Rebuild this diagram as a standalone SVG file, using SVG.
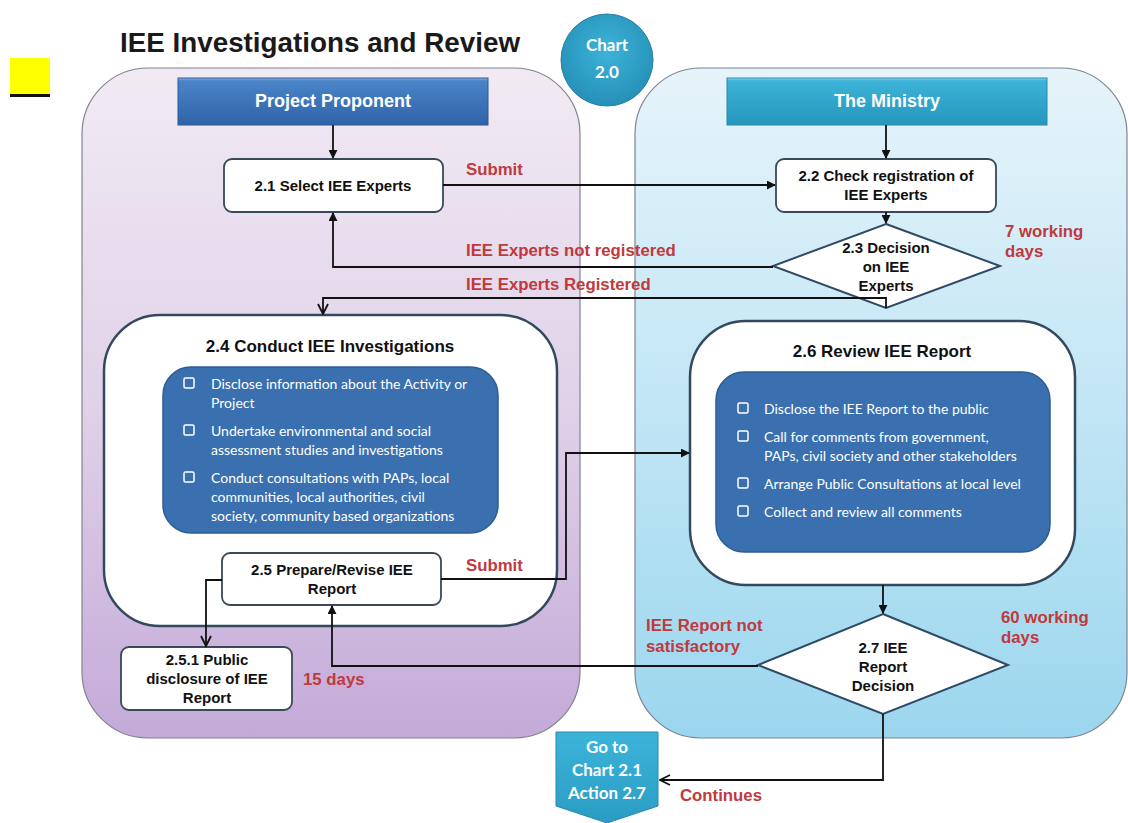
<svg xmlns="http://www.w3.org/2000/svg" width="1128" height="823" viewBox="0 0 1128 823">
<defs>
<linearGradient id="gPurple" x1="0" y1="0" x2="0" y2="1"><stop offset="0" stop-color="#f1eaf3"/><stop offset="0.5" stop-color="#e0d2e9"/><stop offset="1" stop-color="#c4aad8"/></linearGradient>
<linearGradient id="gBlue" x1="0" y1="0" x2="0" y2="1"><stop offset="0" stop-color="#e6f4fa"/><stop offset="0.5" stop-color="#c2e6f5"/><stop offset="1" stop-color="#9bd6ee"/></linearGradient>
<linearGradient id="gPP" x1="0" y1="0" x2="0" y2="1"><stop offset="0" stop-color="#8fb6e6"/><stop offset="0.06" stop-color="#4a84c8"/><stop offset="1" stop-color="#2f63a7"/></linearGradient>
<linearGradient id="gMin" x1="0" y1="0" x2="0" y2="1"><stop offset="0" stop-color="#8fd6ee"/><stop offset="0.06" stop-color="#3cb3d8"/><stop offset="1" stop-color="#2696bd"/></linearGradient>
<radialGradient id="gCircle" cx="0.5" cy="0.4" r="0.6"><stop offset="0" stop-color="#3db3d8"/><stop offset="1" stop-color="#2590b8"/></radialGradient>
<linearGradient id="gGo" x1="0" y1="0" x2="0" y2="1"><stop offset="0" stop-color="#3cb4da"/><stop offset="1" stop-color="#2a9cc4"/></linearGradient>
<marker id="arr" viewBox="0 0 10 10" refX="9" refY="5" markerWidth="9" markerHeight="9" markerUnits="userSpaceOnUse" orient="auto"><path d="M0,0 L10,5 L0,10 z" fill="#111"/></marker>
<marker id="open" viewBox="0 0 12 12" refX="11" refY="6" markerWidth="12" markerHeight="12" markerUnits="userSpaceOnUse" orient="auto"><path d="M1,1 L11,6 L1,11" fill="none" stroke="#111" stroke-width="1.8"/></marker>
</defs>
<style>
.lane{stroke:#808390;stroke-width:1.2}
.box{fill:#fff;stroke:#3a4858;stroke-width:1.8}
.cont{fill:#fff;stroke:#34495e;stroke-width:2.5}
.inner{fill:#3a70b0;stroke:#2d5c94;stroke-width:1.5}
.nt{font-family:"Liberation Sans",Arial,sans-serif;font-weight:bold;font-size:15px;fill:#111;text-anchor:middle}
.ttl{font-family:"Liberation Sans",Arial,sans-serif;font-weight:bold;font-size:17px;fill:#111;text-anchor:middle}
.hd{font-family:"Liberation Sans",Arial,sans-serif;font-weight:bold;font-size:18px;fill:#fff;text-anchor:middle}
.red{font-family:"Liberation Sans",Arial,sans-serif;font-weight:bold;font-size:16.8px;fill:#c0393d}
.bl{font-family:Lato,"Open Sans",sans-serif;font-size:14px;fill:#fff}
.cb{fill:none;stroke:#fff;stroke-width:1.5}
.wt{font-family:Lato,"Open Sans",sans-serif;font-weight:bold;font-size:17px;fill:#fff;text-anchor:middle}
.con{fill:none;stroke:#111;stroke-width:1.8}
</style>
<rect width="1128" height="823" fill="#fff"/>

<g id="lanes">
<rect class="lane" x="82" y="68" width="498" height="670" rx="66" fill="url(#gPurple)"/>
<rect class="lane" x="635" y="68" width="492" height="670" rx="66" fill="url(#gBlue)"/>
</g>

<g id="marker-square">
<rect x="10" y="58" width="40" height="37" fill="#ffff00"/>
<rect x="10" y="94" width="40" height="3" fill="#111"/>
</g>

<g id="title">
<text x="120" y="52" font-family="'Liberation Sans',Arial,sans-serif" font-weight="bold" font-size="27.8" fill="#1a1a1a">IEE Investigations and Review</text>
</g>

<g id="chart">
<circle cx="607" cy="60" r="46" fill="url(#gCircle)" stroke="#2a7fa0" stroke-width="1"/>
<text class="wt" x="607" y="51">Chart</text>
<text class="wt" x="607" y="78">2.0</text>
</g>

<g id="header-pp">
<rect x="178" y="78" width="310" height="47" fill="url(#gPP)" stroke="#2a5a95" stroke-width="1"/>
<text class="hd" x="333" y="107">Project Proponent</text>
</g>

<g id="header-min">
<rect x="727" y="78" width="320" height="47" fill="url(#gMin)" stroke="#2a88ad" stroke-width="1"/>
<text class="hd" x="887" y="107">The Ministry</text>
</g>

<g id="n21">
<rect class="box" x="224" y="159" width="219" height="53" rx="8"/>
<text class="nt" x="333" y="191">2.1 Select IEE Experts</text>
</g>

<g id="n22">
<rect class="box" x="776" y="159" width="220" height="53" rx="8"/>
<text class="nt" x="886" y="181">2.2 Check registration of</text>
<text class="nt" x="886" y="200">IEE Experts</text>
</g>

<g id="n23">
<polygon points="886,224 1000,266 886,308 773,266" fill="#fff" stroke="#2f4a66" stroke-width="2"/>
<text class="nt" x="886" y="253">2.3 Decision</text>
<text class="nt" x="886" y="272">on IEE</text>
<text class="nt" x="886" y="291">Experts</text>
</g>

<g id="n24">
<rect class="cont" x="104" y="315" width="453" height="311" rx="56"/>
<text class="ttl" x="330" y="352">2.4 Conduct IEE Investigations</text>
<rect class="inner" x="163" y="367" width="335" height="166" rx="28"/>
<rect class="cb" x="184" y="378" width="10" height="10" rx="1.5"/>
<text class="bl" x="211" y="389">Disclose information about the Activity or</text>
<text class="bl" x="211" y="408">Project</text>
<rect class="cb" x="184" y="425" width="10" height="10" rx="1.5"/>
<text class="bl" x="211" y="436">Undertake environmental and social</text>
<text class="bl" x="211" y="455">assessment studies and investigations</text>
<rect class="cb" x="184" y="472" width="10" height="10" rx="1.5"/>
<text class="bl" x="211" y="483">Conduct consultations with PAPs, local</text>
<text class="bl" x="211" y="502">communities, local authorities, civil</text>
<text class="bl" x="211" y="521">society, community based organizations</text>
</g>

<g id="n25">
<rect class="box" x="222" y="553" width="219" height="52" rx="8"/>
<text class="nt" x="332" y="575">2.5 Prepare/Revise IEE</text>
<text class="nt" x="332" y="594">Report</text>
</g>

<g id="n251">
<rect class="box" x="121" y="647" width="171" height="63" rx="8"/>
<text class="nt" x="207" y="665">2.5.1 Public</text>
<text class="nt" x="207" y="684">disclosure of IEE</text>
<text class="nt" x="207" y="703">Report</text>
</g>

<g id="n26">
<rect class="cont" x="690" y="321" width="385" height="264" rx="56"/>
<text class="ttl" x="882" y="357">2.6 Review IEE Report</text>
<rect class="inner" x="716" y="372" width="334" height="180" rx="28"/>
<rect class="cb" x="738" y="403" width="10" height="10" rx="1.5"/>
<text class="bl" x="764" y="414">Disclose the IEE Report to the public</text>
<rect class="cb" x="738" y="431" width="10" height="10" rx="1.5"/>
<text class="bl" x="764" y="442">Call for comments from government,</text>
<text class="bl" x="764" y="461">PAPs, civil society and other stakeholders</text>
<rect class="cb" x="738" y="478" width="10" height="10" rx="1.5"/>
<text class="bl" x="764" y="489">Arrange Public Consultations at local level</text>
<rect class="cb" x="738" y="506" width="10" height="10" rx="1.5"/>
<text class="bl" x="764" y="517">Collect and review all comments</text>
</g>

<g id="n27">
<polygon points="883,614 1008,665 883,714 758,665" fill="#fff" stroke="#2f4a66" stroke-width="2"/>
<text class="nt" x="883" y="653">2.7 IEE</text>
<text class="nt" x="883" y="672">Report</text>
<text class="nt" x="883" y="691">Decision</text>
</g>

<g id="goto">
<polygon points="556,732 658,732 658,806 607,823 556,806" fill="url(#gGo)" stroke="#2a88ad" stroke-width="1"/>
<text class="wt" x="607" y="753">Go to</text>
<text class="wt" x="607" y="776">Chart 2.1</text>
<text class="wt" x="607" y="799">Action 2.7</text>
</g>

<g id="connectors">
<path class="con" d="M333,125 V158" marker-end="url(#arr)"/>
<path class="con" d="M886,125 V158" marker-end="url(#arr)"/>
<path class="con" d="M443,185 H775" marker-end="url(#arr)"/>
<path class="con" d="M886,212 V223" marker-end="url(#arr)"/>
<path class="con" d="M773,267 H333 V213" marker-end="url(#arr)"/>
<path class="con" d="M886,308 V298 H323 V314" marker-end="url(#open)"/>
<path class="con" d="M441,579 H566 V453 H689" marker-end="url(#arr)"/>
<path class="con" d="M883,585 V613" marker-end="url(#arr)"/>
<path class="con" d="M758,666 H332 V606" marker-end="url(#arr)"/>
<path class="con" d="M222,580 H206 V646" marker-end="url(#open)"/>
<path class="con" d="M883,714 V780 H660" marker-end="url(#open)"/>
</g>

<g id="labels">
<text class="red" x="466" y="175">Submit</text>
<text class="red" x="466" y="256">IEE Experts not registered</text>
<text class="red" x="466" y="290">IEE Experts Registered</text>
<text class="red" x="1005" y="237">7 working</text>
<text class="red" x="1005" y="257">days</text>
<text class="red" x="466" y="571">Submit</text>
<text class="red" x="646" y="631">IEE Report not</text>
<text class="red" x="646" y="652">satisfactory</text>
<text class="red" x="1001" y="623">60 working</text>
<text class="red" x="1001" y="643">days</text>
<text class="red" x="303" y="685">15 days</text>
<text class="red" x="680" y="801">Continues</text>
</g>
</svg>
